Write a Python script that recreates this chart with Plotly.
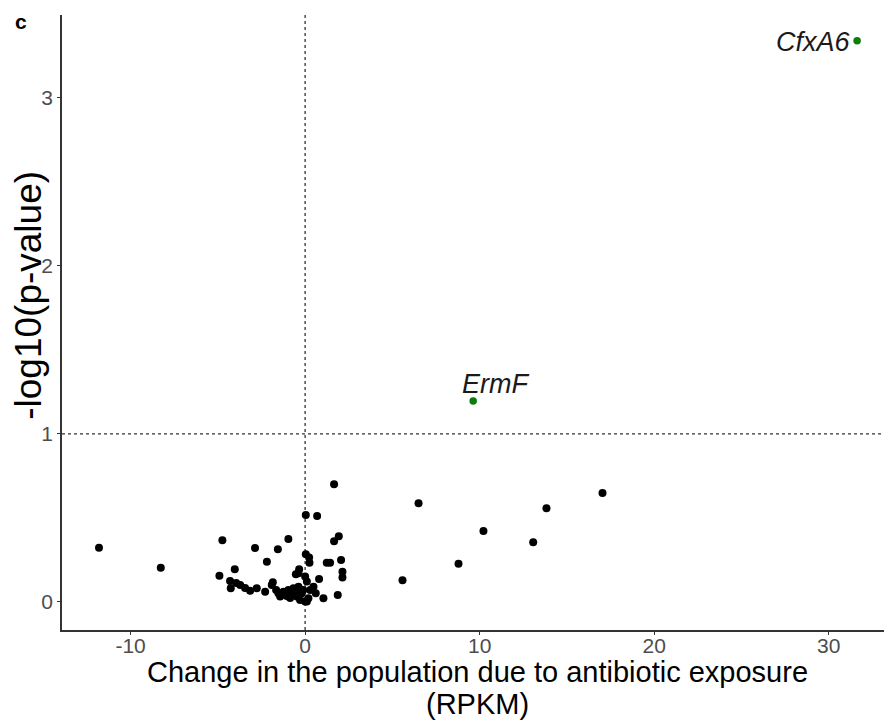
import plotly.graph_objects as go

# non-significant genes: change (RPKM) and -log10(p)
change_ns = [-11.81, -8.27, -4.74, -2.87, -4.91, -4.03, -4.30, -3.95, -4.26, -3.44,
             -3.15, -2.77, 1.66, 0.04, 0.69, -0.96, 1.93, 1.66, -1.56, 0.04,
             0.23, -2.19, 0.25, 1.24, 1.43, 2.06, -0.34, 2.14, -0.53, 2.14,
             0.00, 0.80, -1.85, 0.48, 0.61, 1.05, 1.87, 0.00, -0.38, 0.10,
             -2.29, -1.91, -1.53, -1.24, -0.96, -0.67, -0.38, -1.43, -1.05, -0.76,
             -0.48, -0.19, -0.29, 0.10, 0.19, -0.86, -1.20, -0.57, -0.11, 0.29,
             -1.66, -3.72, 6.50, 5.58, 8.79, 10.22, 13.07, 13.83, 17.04]
logp_ns = [0.323, 0.204, 0.367, 0.321, 0.156, 0.195, 0.125, 0.113, 0.082, 0.083,
           0.067, 0.082, 0.701, 0.518, 0.512, 0.375, 0.391, 0.361, 0.314, 0.284,
           0.264, 0.240, 0.234, 0.234, 0.234, 0.250, 0.195, 0.180, 0.165, 0.145,
           0.151, 0.137, 0.117, 0.091, 0.052, 0.022, 0.042, 0.002, 0.171, 0.121,
           0.061, 0.101, 0.052, 0.061, 0.071, 0.082, 0.091, 0.032, 0.036, 0.042,
           0.032, 0.052, 0.012, 0.002, 0.022, 0.024, 0.048, 0.060, 0.071, 0.071,
           0.071, 0.101, 0.588, 0.129, 0.228, 0.423, 0.355, 0.558, 0.649]

# significant genes
sig_genes = ["CfxA6", "ErmF"]
change_sig = [31.63, 9.63]
logp_sig = [3.34, 1.196]

x_ticks = [-10, 0, 10, 20, 30]
y_ticks = [0, 1, 2, 3]

FONT = "Liberation Sans, Arial, sans-serif"
AXIS_COL = "#4d4d4d"

fig = go.Figure()
fig.add_trace(go.Scatter(x=change_ns, y=logp_ns, mode="markers",
                         marker=dict(color="black", size=8, line=dict(width=0)),
                         showlegend=False, hoverinfo="x+y"))
fig.add_trace(go.Scatter(x=change_sig, y=logp_sig, mode="markers",
                         marker=dict(color="#0b7d0b", size=7.5, line=dict(width=0)),
                         text=sig_genes, showlegend=False, hoverinfo="text+x+y"))

# threshold lines
fig.add_vline(x=0, line=dict(color="#333333", width=1.3, dash="dot"), layer="below")
fig.add_hline(y=1, line=dict(color="#333333", width=1.3, dash="dot"), layer="below")

# gene labels
fig.add_annotation(x=change_sig[0], y=logp_sig[0], text="<i>" + sig_genes[0] + "</i>",
                   showarrow=False, xanchor="right", yanchor="middle", xshift=-4, yshift=-1,
                   font=dict(family=FONT, size=27, color="#1a1a1a"))
fig.add_annotation(x=change_sig[1], y=logp_sig[1], text="<i>" + sig_genes[1] + "</i>",
                   showarrow=False, xanchor="center", yanchor="middle", xshift=22, yshift=17,
                   font=dict(family=FONT, size=27, color="#1a1a1a"))

# panel letter
fig.add_annotation(x=-0.0496, y=0.989, xref="paper", yref="paper", text="<b>c</b>",
                   showarrow=False, xanchor="center", yanchor="middle",
                   font=dict(family=FONT, size=21, color="black"))

# axis titles as annotations
fig.add_annotation(text="-log10(p-value)", xref="paper", yref="paper",
                   x=-0.0400, y=0.545, textangle=-90, showarrow=False,
                   xanchor="center", yanchor="middle",
                   font=dict(family=FONT, size=37, color="black"))
fig.add_annotation(text="Change in the population due to antibiotic exposure", xref="paper", yref="paper",
                   x=0.5036, y=-0.0685, showarrow=False, xanchor="center", yanchor="middle",
                   font=dict(family=FONT, size=29, color="black"))
fig.add_annotation(text="(RPKM)", xref="paper", yref="paper",
                   x=0.5036, y=-0.1210, showarrow=False, xanchor="center", yanchor="middle",
                   font=dict(family=FONT, size=29, color="black"))

fig.update_layout(
    width=892, height=724,
    margin=dict(l=54, r=12, t=7, b=102, autoexpand=False),
    paper_bgcolor="white", plot_bgcolor="white",
    font=dict(family=FONT),
    xaxis=dict(range=[-13.93, 33.4], tickvals=x_ticks, ticktext=[str(v) for v in x_ticks],
               showgrid=False, zeroline=False, showline=True, linecolor="#333333", linewidth=1.5,
               ticks="outside", ticklen=3, tickcolor="#333333", tickwidth=1.2, automargin=False,
               ticklabelstandoff=-7,
               tickfont=dict(family=FONT, size=21, color=AXIS_COL)),
    yaxis=dict(range=[-0.167, 3.494], tickvals=y_ticks, ticktext=[str(v) for v in y_ticks],
               showgrid=False, zeroline=False, showline=True, linecolor="#333333", linewidth=1.5,
               ticks="outside", ticklen=3, tickcolor="#333333", tickwidth=1.2, automargin=False,
               tickfont=dict(family=FONT, size=21, color=AXIS_COL)),
)

fig.write_html("out.html")
